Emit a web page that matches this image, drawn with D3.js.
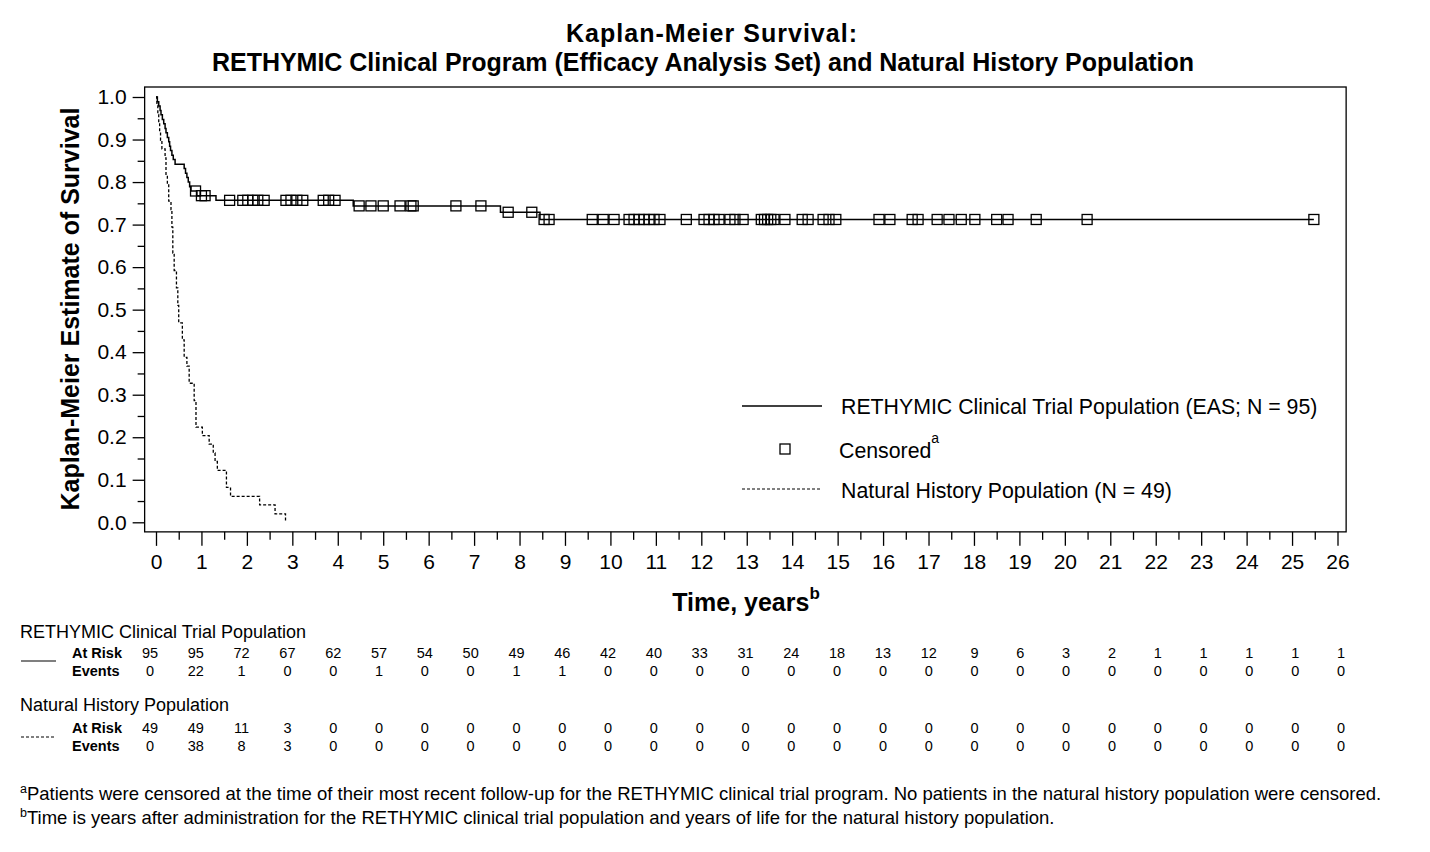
<!DOCTYPE html>
<html>
<head>
<meta charset="utf-8">
<script src="https://cdn.jsdelivr.net/npm/d3@7"></script>
<style>
  html, body { margin: 0; padding: 0; background: #fff; }
  svg { display: block; font-family: "Liberation Sans", Arial, sans-serif; }
</style>
</head>
<body>
<svg id="chart" width="1430" height="852"></svg>
<script>
// ---------------- DATA ----------------
// RETHYMIC clinical trial population (N = 95): event times (years) and KM survival after each step
const rethymicEventTimes = [0.03, 0.06, 0.09, 0.11, 0.14, 0.17, 0.20, 0.22, 0.25, 0.28, 0.30, 0.32, 0.35, 0.38, 0.42,
                            0.62, 0.65, 0.68, 0.71, 0.74, 0.77, 0.90, 1.32, 4.34, 7.58, 8.45];
const rethymicSurvival   = [0.989, 0.979, 0.968, 0.958, 0.947, 0.937, 0.926, 0.916, 0.905, 0.895, 0.884, 0.874, 0.863, 0.853, 0.842,
                            0.832, 0.821, 0.811, 0.800, 0.789, 0.779, 0.768, 0.757, 0.744, 0.729, 0.712];
const rethymicLastFollowUp = 25.48;
// censoring times (years)
const rethymicCensored = [0.87, 1.00, 1.08, 1.62, 1.91, 2.02, 2.13, 2.24, 2.38, 2.86, 2.97, 3.10, 3.23, 3.68, 3.80, 3.94,
  4.47, 4.73, 5.00, 5.37, 5.61, 5.66, 6.60, 7.15, 7.75, 8.27, 8.54, 8.65, 9.60, 9.84, 10.08,
  10.41, 10.52, 10.63, 10.74, 10.85, 10.96, 11.09, 11.67, 12.06, 12.17, 12.28, 12.39, 12.63, 12.74, 12.92,
  13.32, 13.39, 13.46, 13.53, 13.60, 13.84, 14.22, 14.35, 14.68, 14.81, 14.96, 15.91, 16.15, 16.64, 16.77,
  17.19, 17.45, 17.72, 18.02, 18.50, 18.75, 19.37, 20.49, 25.48];

// Natural history population (N = 49)
const nhEventTimes = [0.02, 0.04, 0.06, 0.08, 0.10, 0.13, 0.20, 0.22, 0.25, 0.28, 0.33, 0.35, 0.37, 0.40, 0.45, 0.48, 0.50,
                      0.58, 0.62, 0.68, 0.73, 0.84, 0.88, 1.02, 1.17, 1.26, 1.30, 1.35, 1.55, 1.64, 2.28, 2.62, 2.85];
const nhSurvival   = [0.980, 0.959, 0.939, 0.918, 0.898, 0.878, 0.857, 0.816, 0.796, 0.755, 0.735, 0.694, 0.633, 0.592, 0.551, 0.510, 0.469,
                      0.429, 0.388, 0.367, 0.327, 0.286, 0.224, 0.204, 0.184, 0.163, 0.143, 0.122, 0.082, 0.061, 0.041, 0.020, 0.000];

// Axis ticks
const xTickLabels = d3.range(0, 27);
const yTickLabels = [0.0, 0.1, 0.2, 0.3, 0.4, 0.5, 0.6, 0.7, 0.8, 0.9, 1.0];

// Risk table
const tableTimes = d3.range(0, 27);
const rethymicAtRisk = [95, 95, 72, 67, 62, 57, 54, 50, 49, 46, 42, 40, 33, 31, 24, 18, 13, 12, 9, 6, 3, 2, 1, 1, 1, 1, 1];
const rethymicEvents = [0, 22, 1, 0, 0, 1, 0, 0, 1, 1, 0, 0, 0, 0, 0, 0, 0, 0, 0, 0, 0, 0, 0, 0, 0, 0, 0];
const nhAtRisk = [49, 49, 11, 3, 0, 0, 0, 0, 0, 0, 0, 0, 0, 0, 0, 0, 0, 0, 0, 0, 0, 0, 0, 0, 0, 0, 0];
const nhEvents = [0, 38, 8, 3, 0, 0, 0, 0, 0, 0, 0, 0, 0, 0, 0, 0, 0, 0, 0, 0, 0, 0, 0, 0, 0, 0, 0];

// Texts
const titleLines = ["Kaplan-Meier Survival:", "RETHYMIC Clinical Program (Efficacy Analysis Set) and Natural History Population"];
const yAxisTitle = "Kaplan-Meier Estimate of Survival";
const legendLabels = ["RETHYMIC Clinical Trial Population (EAS; N = 95)", "Censored", "Natural History Population (N = 49)"];
const footnotes = [
  "Patients were censored at the time of their most recent follow-up for the RETHYMIC clinical trial program. No patients in the natural history population were censored.",
  "Time is years after administration for the RETHYMIC clinical trial population and years of life for the natural history population."
];

// ---------------- DRAW ----------------
const svg = d3.select("#chart");
const FONT = '"Liberation Sans", Arial, sans-serif';

const x = d3.scaleLinear().domain([0, 26]).range([156, 1337.5]);
const y = d3.scaleLinear().domain([0, 1]).range([522.3, 97]);
const xMin = -0.25, xMax = 26.19, yMin = -0.0225, yMax = 1.0235;

// Title
svg.append("text").attr("x", 711.5).attr("y", 42).attr("text-anchor", "middle")
  .attr("font-size", 25).attr("font-weight", "bold")
  .attr("textLength", 291).attr("lengthAdjust", "spacing").text(titleLines[0]);
svg.append("text").attr("x", 703).attr("y", 71).attr("text-anchor", "middle")
  .attr("font-size", 25).attr("font-weight", "bold")
  .attr("textLength", 982).attr("lengthAdjust", "spacing").text(titleLines[1]);

// Plot frame
svg.append("rect")
  .attr("x", x(xMin)).attr("y", y(yMax))
  .attr("width", x(xMax) - x(xMin)).attr("height", y(yMin) - y(yMax))
  .attr("fill", "none").attr("stroke", "#000").attr("stroke-width", 1.3);

// X axis (major + minor)
const xAxisG = svg.append("g").attr("transform", `translate(0,${y(yMin)})`);
xAxisG.call(d3.axisBottom(x).tickValues(xTickLabels).tickSize(14).tickPadding(8).tickFormat(d3.format("d")));
const xMinor = svg.append("g").attr("transform", `translate(0,${y(yMin)})`);
xMinor.call(d3.axisBottom(x).tickValues(d3.range(0.5, 26, 1)).tickSize(8).tickFormat(""));

// Y axis (major + minor)
const yAxisG = svg.append("g").attr("transform", `translate(${x(xMin)},0)`);
yAxisG.call(d3.axisLeft(y).tickValues(yTickLabels).tickSize(12).tickPadding(6).tickFormat(d3.format(".1f")));
const yMinor = svg.append("g").attr("transform", `translate(${x(xMin)},0)`);
yMinor.call(d3.axisLeft(y).tickValues(d3.range(0.05, 1.0, 0.1)).tickSize(7).tickFormat(""));

[xAxisG, xMinor, yAxisG, yMinor].forEach(g => {
  g.select(".domain").remove();
  g.selectAll("line").attr("stroke", "#000").attr("stroke-width", 1.3);
  g.selectAll("text").attr("font-size", 21).attr("font-family", FONT).attr("fill", "#000");
});

// Axis titles
svg.append("text")
  .attr("transform", "translate(79,309) rotate(-90)")
  .attr("text-anchor", "middle").attr("font-size", 25).attr("font-weight", "bold")
  .text(yAxisTitle);

const xt = svg.append("text").attr("x", 746).attr("y", 611).attr("text-anchor", "middle")
  .attr("font-size", 25).attr("font-weight", "bold");
xt.append("tspan").text("Time, years");
xt.append("tspan").attr("dy", -12).attr("font-size", 17).text("b");

// KM curves
const stepLine = d3.line().x(d => x(d[0])).y(d => y(d[1])).curve(d3.curveStepAfter);

const rethymicPts = [[0, 1]].concat(rethymicEventTimes.map((t, i) => [t, rethymicSurvival[i]]));
rethymicPts.push([rethymicLastFollowUp, rethymicSurvival[rethymicSurvival.length - 1]]);
const nhPts = [[0, 1]].concat(nhEventTimes.map((t, i) => [t, nhSurvival[i]]));

svg.append("path").datum(rethymicPts).attr("d", stepLine)
  .attr("fill", "none").attr("stroke", "#000").attr("stroke-width", 1.5);
svg.append("path").datum(nhPts).attr("d", stepLine)
  .attr("fill", "none").attr("stroke", "#000").attr("stroke-width", 1.3).attr("stroke-dasharray", "3,2");

// survival lookup for censor marks
function survAt(t) {
  let s = 1;
  for (let i = 0; i < rethymicEventTimes.length; i++) {
    if (rethymicEventTimes[i] <= t) s = rethymicSurvival[i];
  }
  return s;
}
const BOX = 10;
svg.append("g").selectAll("rect").data(rethymicCensored).join("rect")
  .attr("x", d => x(d) - BOX / 2).attr("y", d => y(survAt(d)) - BOX / 2)
  .attr("width", BOX).attr("height", BOX)
  .attr("fill", "none").attr("stroke", "#000").attr("stroke-width", 1.3);

// Legend
const lg = svg.append("g");
lg.append("line").attr("x1", 742).attr("x2", 822).attr("y1", 406).attr("y2", 406)
  .attr("stroke", "#000").attr("stroke-width", 1.3);
lg.append("text").attr("x", 841).attr("y", 414).attr("font-size", 21.3).text(legendLabels[0]);
lg.append("rect").attr("x", 785 - 5).attr("y", 449 - 5).attr("width", 10).attr("height", 10)
  .attr("fill", "none").attr("stroke", "#000").attr("stroke-width", 1.3);
const ct = lg.append("text").attr("x", 839).attr("y", 458).attr("font-size", 21.3);
ct.append("tspan").text(legendLabels[1]);
ct.append("tspan").attr("dy", -15).attr("font-size", 14).text("a");
lg.append("line").attr("x1", 742).attr("x2", 822).attr("y1", 489).attr("y2", 489)
  .attr("stroke", "#000").attr("stroke-width", 1).attr("stroke-dasharray", "3,2");
lg.append("text").attr("x", 841).attr("y", 498).attr("font-size", 21.3).text(legendLabels[2]);

// Risk table
const tx = d3.scaleLinear().domain([0, 26]).range([150, 1341]);
function table(title, titleY, dashed, lineY, atRisk, events, rowY1, rowY2) {
  const g = svg.append("g");
  g.append("text").attr("x", 20).attr("y", titleY).attr("font-size", 18).text(title);
  g.append("line").attr("x1", 21).attr("x2", 56).attr("y1", lineY).attr("y2", lineY)
    .attr("stroke", "#000").attr("stroke-width", 1.2).attr("stroke-dasharray", dashed ? "3,2" : null);
  g.append("text").attr("x", 72).attr("y", rowY1).attr("font-size", 14.5).attr("font-weight", "bold").text("At Risk");
  g.append("text").attr("x", 72).attr("y", rowY2).attr("font-size", 14.5).attr("font-weight", "bold").text("Events");
  g.append("g").selectAll("text").data(tableTimes).join("text")
    .attr("x", d => tx(d)).attr("y", rowY1).attr("text-anchor", "middle").attr("font-size", 14.5)
    .text((d, i) => atRisk[i]);
  g.append("g").selectAll("text").data(tableTimes).join("text")
    .attr("x", d => tx(d)).attr("y", rowY2).attr("text-anchor", "middle").attr("font-size", 14.5)
    .text((d, i) => events[i]);
}
table("RETHYMIC Clinical Trial Population", 638, false, 661, rethymicAtRisk, rethymicEvents, 658, 676);
table("Natural History Population", 711, true, 737, nhAtRisk, nhEvents, 733, 751);

// Footnotes
["a", "b"].forEach((sup, i) => {
  const t = svg.append("text").attr("x", 20).attr("y", 800 + i * 24).attr("font-size", 18.5);
  t.append("tspan").attr("font-size", 12.5).attr("dy", -7).text(sup);
  t.append("tspan").attr("dy", 7).text(footnotes[i]);
});
</script>
</body>
</html>
